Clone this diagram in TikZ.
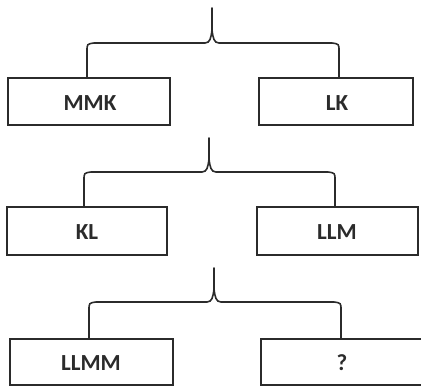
\documentclass[tikz,border=0pt]{standalone}
\usepackage{fontspec}
\setmainfont{Carlito}
\definecolor{ink}{HTML}{2B2B2B}
\begin{document}
\begin{tikzpicture}[x=1pt,y=-1pt,
  box/.style={draw=ink,line width=1.8pt,rectangle,inner sep=0pt},
  lbl/.style={text=ink,font=\bfseries\fontsize{23}{26}\selectfont},
  brace/.style={draw=ink,line width=1.6pt,line cap=round}]
\clip (0,0) rectangle (421,387);
% row 1
\draw[box] (8,78) rectangle (170,125);
\node[lbl] (mmk) at (90,103) {MMK};
\draw[box] (259,78) rectangle (413,125);
\node[lbl] (lk) at (337,103) {LK};
\coordinate (t1) at (212,8);
\coordinate (l1) at (87,78);
\coordinate (r1) at (339,78);
\draw[brace] (l1) -- (87,51) .. controls (87,44) .. (94,43) -- (205,43)
  .. controls (210,43) and (211,38) .. (212,30) -- (t1);
\draw[brace] (r1) -- (339,51) .. controls (339,44) .. (332,43) -- (219,43)
  .. controls (214,43) and (213,38) .. (212,30);
% row 2
\draw[box] (7,207) rectangle (167,255);
\node[lbl] (kl) at (87,232) {KL};
\draw[box] (257,207) rectangle (418,255);
\node[lbl] (llm) at (337,232) {LLM};
\coordinate (t2) at (209,138);
\coordinate (l2) at (84,207);
\coordinate (r2) at (335,207);
\draw[brace] (l2) -- (84,180) .. controls (84,173) .. (91,172) -- (202,172)
  .. controls (207,172) and (208,167) .. (209,159) -- (t2);
\draw[brace] (r2) -- (335,180) .. controls (335,173) .. (328,172) -- (216,172)
  .. controls (211,172) and (210,167) .. (209,159);
% row 3
\draw[box] (10,339) rectangle (173,385);
\node[lbl] (llmm) at (91,363) {LLMM};
\draw[box] (261,339) rectangle (425,385);
\node[lbl] (q) at (342,363) {?};
\coordinate (t3) at (214,268);
\coordinate (l3) at (89,339);
\coordinate (r3) at (341,339);
\draw[brace] (l3) -- (89,310) .. controls (89,303) .. (96,302) -- (207,302)
  .. controls (212,302) and (213,297) .. (214,289) -- (t3);
\draw[brace] (r3) -- (341,310) .. controls (341,303) .. (334,302) -- (221,302)
  .. controls (216,302) and (215,297) .. (214,289);
\end{tikzpicture}
\end{document}
